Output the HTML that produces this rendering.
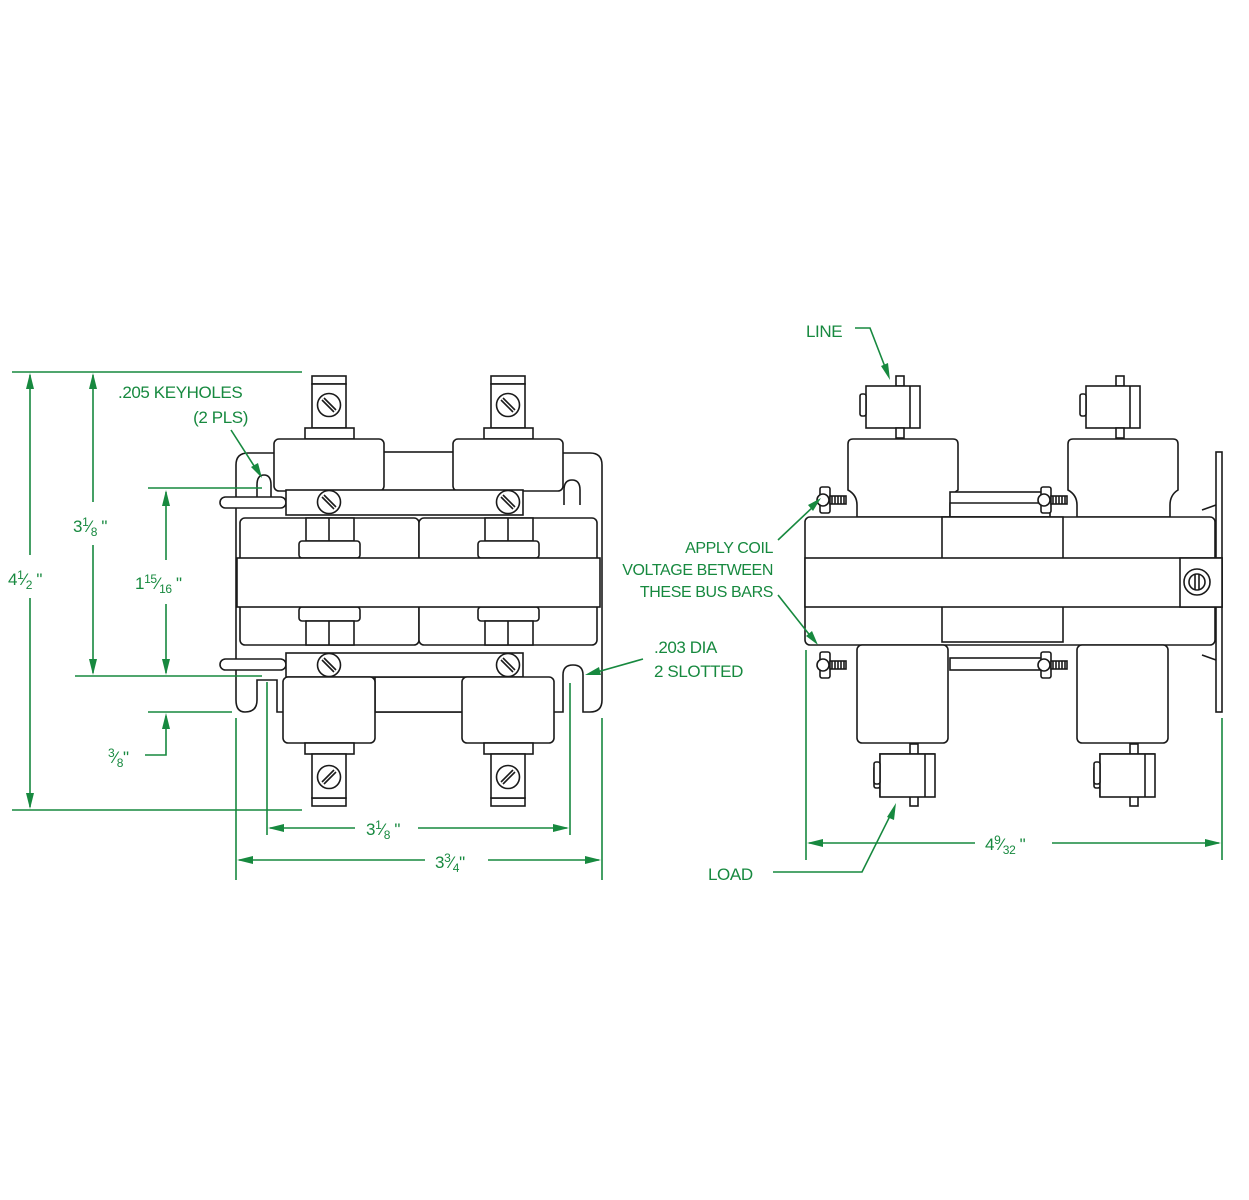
<!DOCTYPE html>
<html><head><meta charset="utf-8"><style>
html,body{margin:0;padding:0;background:#fff}
svg{display:block}
.k{fill:#fff;stroke:#1a1a1a;stroke-width:1.6}
.kn{fill:none;stroke:#1a1a1a;stroke-width:1.6}
.g{fill:none;stroke:#17893f;stroke-width:1.6}
.t{fill:#17893f;font-family:"Liberation Sans",sans-serif;font-size:17px;letter-spacing:-0.4px}
.ah{fill:#17893f}
</style></head><body>
<svg width="1249" height="1200" viewBox="0 0 1249 1200" xmlns="http://www.w3.org/2000/svg">
<defs>
<g id="scr"><circle r="11.5" class="k"/><line x1="-7" y1="-5" x2="5" y2="7" class="kn" stroke-width="2"/><line x1="-5" y1="-7" x2="7" y2="5" class="kn" stroke-width="2"/></g>
<g id="tb"><rect x="-17" y="0" width="34" height="8" class="k"/><rect x="-17" y="8" width="34" height="44" class="k"/><use href="#scr" x="0" y="29"/></g>
<g id="ts"><rect x="-4" y="-10" width="8" height="10" class="k"/><rect x="-34" y="0" width="54" height="42" class="k"/><line x1="10" y1="0" x2="10" y2="42" class="kn"/><rect x="-40" y="8" width="6" height="22" rx="2" class="k"/><rect x="-4" y="42" width="8" height="10" class="k"/></g>
<g id="rs"><rect x="-6" y="-13" width="10" height="26" rx="2" class="k"/><circle cx="-3" cy="0" r="6" class="k"/><rect x="4" y="-4" width="16" height="8" class="k"/><path d="M6,-4v8M9,-4v8M12,-4v8M15,-4v8M18,-4v8" class="kn" stroke-width="1"/></g>
</defs>

<!-- LEFT DRAWING -->
<path d="M248,453 H590 Q602,453 602,465 V700 Q602,712 590,712 H583 V675 Q583,665 573,665 Q563,665 563,675 V712 H277 V680 H257 V700 Q257,712 245,712 Q236,712 236,700 V465 Q236,453 248,453 Z" class="k"/>
<path d="M257,505 V485 Q257,475 264,475 Q271,475 271,485 V505" class="k"/>
<path d="M564,505 V490 Q564,480 572,480 Q580,480 580,490 V505" class="k"/>
<rect x="380" y="452" width="78" height="40" class="k"/>
<rect x="375" y="677" width="90" height="35" class="k"/>
<use href="#tb" x="329" y="376"/><use href="#tb" x="508" y="376"/>
<rect x="305" y="428" width="49" height="11" class="k"/><rect x="484" y="428" width="49" height="11" class="k"/>
<rect x="274" y="439" width="110" height="52" rx="5" class="k"/>
<rect x="453" y="439" width="110" height="52" rx="5" class="k"/>
<rect x="220" y="497" width="66" height="11" rx="5.5" class="k"/>
<rect x="286" y="490" width="237" height="25" class="k"/>
<use href="#scr" x="329" y="502"/><use href="#scr" x="508" y="502"/>
<rect x="240" y="518" width="179" height="127" rx="5" class="k"/>
<rect x="419" y="518" width="178" height="127" rx="5" class="k"/>
<rect x="306" y="518" width="48" height="23" class="k"/><line x1="329" y1="518" x2="329" y2="541" class="kn"/>
<rect x="485" y="518" width="48" height="23" class="k"/><line x1="508" y1="518" x2="508" y2="541" class="kn"/>
<rect x="299" y="541" width="61" height="17" rx="3" class="k"/><rect x="478" y="541" width="61" height="17" rx="3" class="k"/>
<rect x="299" y="607" width="61" height="14" rx="3" class="k"/><rect x="478" y="607" width="61" height="14" rx="3" class="k"/>
<rect x="306" y="621" width="48" height="24" class="k"/><line x1="329" y1="621" x2="329" y2="645" class="kn"/>
<rect x="485" y="621" width="48" height="24" class="k"/><line x1="508" y1="621" x2="508" y2="645" class="kn"/>
<rect x="237" y="558" width="363" height="49" class="k" stroke-width="2"/>
<rect x="220" y="659" width="66" height="11" rx="5.5" class="k"/>
<rect x="286" y="653" width="237" height="24" class="k"/>
<use href="#scr" x="329" y="665"/><use href="#scr" x="508" y="665"/>
<rect x="283" y="677" width="92" height="66" rx="5" class="k"/>
<rect x="462" y="677" width="92" height="66" rx="5" class="k"/>
<rect x="305" y="743" width="49" height="11" class="k"/><rect x="484" y="743" width="49" height="11" class="k"/>
<g transform="translate(0,1560) scale(1,-1)"><use href="#tb" x="329" y="754"/><use href="#tb" x="508" y="754"/></g>

<!-- RIGHT DRAWING -->
<rect x="1216" y="452" width="6" height="260" class="k"/>
<use href="#ts" x="900" y="386"/><use href="#ts" x="1120" y="386"/>
<path d="M848,490 V444 Q848,439 853,439 H953 Q958,439 958,444 V490 Q950,495 950,505 V517 H857 V505 Q857,495 848,490 Z" class="k"/>
<path d="M1068,490 V444 Q1068,439 1073,439 H1173 Q1178,439 1178,444 V490 Q1170,495 1170,505 V517 H1077 V505 Q1077,495 1068,490 Z" class="k"/>
<rect x="950" y="492" width="100" height="25" class="k"/>
<line x1="950" y1="503" x2="1045" y2="503" class="kn"/>
<rect x="805" y="517" width="410" height="128" rx="5" class="k"/>
<rect x="942" y="517" width="121" height="125" class="k"/>
<rect x="805" y="558" width="417" height="49" class="k" stroke-width="2"/>
<rect x="1180" y="558" width="42" height="49" class="k"/>
<circle cx="1197" cy="582" r="13" class="k"/><circle cx="1197" cy="582" r="8" class="k"/><line x1="1195" y1="574" x2="1195" y2="590" class="kn"/><line x1="1199" y1="574" x2="1199" y2="590" class="kn"/>
<path d="M1202,510 L1216,505 M1202,655 L1216,660" class="kn"/>
<rect x="950" y="658" width="100" height="12" class="k"/>
<use href="#rs" x="826" y="500"/><use href="#rs" x="1047" y="500"/>
<use href="#rs" x="826" y="665"/><use href="#rs" x="1047" y="665"/>
<rect x="857" y="645" width="91" height="98" rx="5" class="k"/>
<rect x="1077" y="645" width="91" height="98" rx="5" class="k"/>
<g transform="translate(0,1560) scale(1,-1)"><use href="#ts" x="914" y="764"/><use href="#ts" x="1134" y="764"/></g>
<rect x="880" y="754" width="55" height="43" class="k"/><line x1="925" y1="754" x2="925" y2="797" class="kn"/>
<rect x="874" y="762" width="6" height="22" rx="2" class="k"/>
<rect x="1100" y="754" width="55" height="43" class="k"/><line x1="1145" y1="754" x2="1145" y2="797" class="kn"/>
<rect x="1094" y="762" width="6" height="22" rx="2" class="k"/>

<!-- DIMENSIONS LEFT -->
<g class="g">
<line x1="12" y1="372" x2="302" y2="372"/><line x1="12" y1="810" x2="302" y2="810"/>
<line x1="30" y1="375" x2="30" y2="555"/><line x1="30" y1="598" x2="30" y2="807"/>
<line x1="93" y1="375" x2="93" y2="502"/><line x1="93" y1="545" x2="93" y2="673"/>
<line x1="75" y1="676" x2="262" y2="676"/>
<line x1="148" y1="488" x2="262" y2="488"/>
<line x1="166" y1="492" x2="166" y2="560"/><line x1="166" y1="604" x2="166" y2="673"/>
<line x1="148" y1="712" x2="232" y2="712"/>
<polyline points="145,755 166,755 166,716"/>
<line x1="236" y1="718" x2="236" y2="880"/><line x1="267" y1="682" x2="267" y2="835"/>
<line x1="570" y1="683" x2="570" y2="835"/><line x1="602" y1="718" x2="602" y2="880"/>
<line x1="270" y1="828" x2="355" y2="828"/><line x1="418" y1="828" x2="567" y2="828"/>
<line x1="239" y1="860" x2="425" y2="860"/><line x1="488" y1="860" x2="599" y2="860"/>
<line x1="231" y1="430" x2="258" y2="472"/>
<line x1="643" y1="659" x2="590" y2="674"/>
</g>
<g class="ah">
<path d="M30,373 l-4,16 h8z"/><path d="M30,809 l-4,-16 h8z"/>
<path d="M93,373 l-4,16 h8z"/><path d="M93,675 l-4,-16 h8z"/>
<path d="M166,490 l-4,16 h8z"/><path d="M166,675 l-4,-16 h8z"/><path d="M166,713 l-4,16 h8z"/>
<path d="M268,828 l16,-4 v8z"/><path d="M569,828 l-16,-4 v8z"/>
<path d="M237,860 l16,-4 v8z"/><path d="M601,860 l-16,-4 v8z"/>
<path d="M262,478 l-11,-11 l7,-4z"/>
<path d="M585,675 l14,-8 l2,8z"/>
</g>
<g class="t">
<text x="118" y="398">.205 KEYHOLES</text>
<text x="248" y="423" text-anchor="end">(2 PLS)</text>
<text x="8" y="585">4<tspan font-size="12" dy="-6">1</tspan><tspan dy="6">⁄</tspan><tspan font-size="12" dy="4">2</tspan><tspan dy="-4"> "</tspan></text>
<text x="73" y="532">3<tspan font-size="12" dy="-6">1</tspan><tspan dy="6">⁄</tspan><tspan font-size="12" dy="4">8</tspan><tspan dy="-4"> "</tspan></text>
<text x="135" y="589">1<tspan font-size="12" dy="-6">15</tspan><tspan dy="6">⁄</tspan><tspan font-size="12" dy="4">16</tspan><tspan dy="-4"> "</tspan></text>
<text x="108" y="763"><tspan font-size="12" dy="-6">3</tspan><tspan dy="6">⁄</tspan><tspan font-size="12" dy="4">8</tspan><tspan dy="-4">"</tspan></text>
<text x="366" y="835">3<tspan font-size="12" dy="-6">1</tspan><tspan dy="6">⁄</tspan><tspan font-size="12" dy="4">8</tspan><tspan dy="-4"> "</tspan></text>
<text x="435" y="868">3<tspan font-size="12" dy="-6">3</tspan><tspan dy="6">⁄</tspan><tspan font-size="12" dy="4">4</tspan><tspan dy="-4">"</tspan></text>
<text x="654" y="653">.203 DIA</text>
<text x="654" y="677">2 SLOTTED</text>
</g>

<!-- DIMENSIONS RIGHT -->
<g class="g">
<polyline points="855,328 870,328 887,372"/>
<line x1="778" y1="540" x2="815" y2="505"/>
<line x1="778" y1="595" x2="812" y2="638"/>
<polyline points="773,872 862,872 892,812"/>
<line x1="806" y1="650" x2="806" y2="860"/><line x1="1222" y1="718" x2="1222" y2="860"/>
<line x1="809" y1="843" x2="975" y2="843"/><line x1="1052" y1="843" x2="1219" y2="843"/>
</g>
<g class="ah">
<path d="M890,380 l-9,-14 l7,-3z"/>
<path d="M821,498 l-13,7 l5,6z"/>
<path d="M818,645 l-12,-9 l6,-5z"/>
<path d="M896,803 l-2,17 l-7,-3z"/>
<path d="M807,843 l16,-4 v8z"/><path d="M1221,843 l-16,-4 v8z"/>
</g>
<g class="t">
<text x="806" y="337">LINE</text>
<text x="773" y="553" text-anchor="end" font-size="16">APPLY COIL</text>
<text x="773" y="575" text-anchor="end" font-size="16">VOLTAGE BETWEEN</text>
<text x="773" y="597" text-anchor="end" font-size="16">THESE BUS BARS</text>
<text x="708" y="880">LOAD</text>
<text x="985" y="850">4<tspan font-size="12" dy="-6">9</tspan><tspan dy="6">⁄</tspan><tspan font-size="12" dy="4">32</tspan><tspan dy="-4"> "</tspan></text>
</g>
</svg>
</body></html>
